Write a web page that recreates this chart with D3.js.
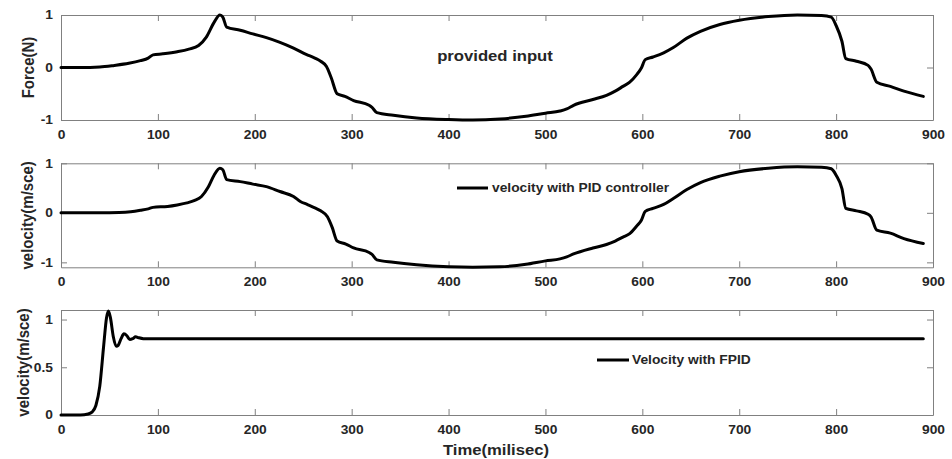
<!DOCTYPE html>
<html><head><meta charset="utf-8">
<script src="https://cdn.jsdelivr.net/npm/d3@7"></script>
<style>
body{margin:0;background:#fff}
svg{display:block}
text{font-family:"Liberation Sans",Arial,sans-serif;font-weight:bold;fill:#262626}
</style></head>
<body><svg id="chart" width="952" height="459"></svg>
<script>
// ---------- data ----------
const xTicks = [0,100,200,300,400,500,600,700,800,900];
const forceTicks = [-1,0,1];
const pidTicks = [-1,0,1];
const fpidTicks = [0,0.5,1];

const forceT = [0,20,40,55,70,82,90,95,105,120,132,142,150,158,164,167,171,185,198,212,226,240,253,262,268,274,279,285,293,302,318,321,326,343,367,400,425,453,480,500,515,522,529,549,563,572,580,587,594,599,603,611,622,632,646,660,680,700,730,760,785,795,800,806,810,821,833,836,842,856,870,890];
const forceV = [0,0,0.01,0.04,0.08,0.13,0.18,0.24,0.26,0.3,0.35,0.42,0.58,0.86,1.0,0.96,0.77,0.71,0.64,0.57,0.48,0.37,0.25,0.18,0.12,0.02,-0.2,-0.5,-0.55,-0.63,-0.72,-0.76,-0.86,-0.91,-0.96,-0.99,-1.0,-0.98,-0.93,-0.87,-0.83,-0.79,-0.72,-0.61,-0.53,-0.45,-0.36,-0.28,-0.14,-0.01,0.15,0.2,0.28,0.38,0.56,0.69,0.82,0.9,0.97,1.0,0.99,0.96,0.8,0.5,0.17,0.12,0.04,-0.03,-0.28,-0.36,-0.45,-0.55];

const pidT = [0,40,60,72,82,90,95,110,120,130,138,145,152,158,164,167,171,185,198,212,226,240,247,254,262,268,275,280,285,294,302,318,321,326,343,367,400,425,453,480,500,515,522,529,549,563,572,580,587,594,599,603,611,622,632,646,660,680,700,730,760,785,795,800,806,810,821,833,836,842,856,870,890];
const pidV = [0,0,0.005,0.02,0.05,0.08,0.11,0.13,0.16,0.2,0.25,0.33,0.52,0.76,0.9,0.87,0.67,0.63,0.58,0.53,0.43,0.33,0.23,0.17,0.1,0.04,-0.08,-0.3,-0.57,-0.63,-0.71,-0.8,-0.84,-0.95,-1.0,-1.05,-1.09,-1.1,-1.09,-1.04,-0.97,-0.93,-0.89,-0.83,-0.71,-0.64,-0.57,-0.49,-0.42,-0.27,-0.15,0.03,0.09,0.17,0.29,0.47,0.61,0.74,0.83,0.9,0.93,0.92,0.89,0.76,0.49,0.09,0.04,-0.03,-0.08,-0.35,-0.41,-0.52,-0.62];

const fpidT = [0,20,28,32,36,40,44,47,49,51,54,57,59,62,65,68,71,74,77,80,85,100,890];
const fpidV = [0,0,0.01,0.03,0.1,0.3,0.72,1.02,1.09,1.02,0.82,0.72,0.73,0.8,0.85,0.83,0.79,0.8,0.82,0.81,0.8,0.8,0.8];

// ---------- layout ----------
const svg = d3.select("#chart");
const L = 61, R = 933;
const SX = 1.15;
const plainFmt = d => String(d);
const panels = [
  {top:15, bottom:120, domain:[-1,1], ticks:forceTicks, T:forceT, V:forceV, ylabel:"Force(N)", ylx:28},
  {top:163.3, bottom:267.3, domain:[-1.1,1], ticks:pidTicks, T:pidT, V:pidV, ylabel:"velocity(m/sce)", ylx:27},
  {top:310, bottom:415, domain:[0,1.1], ticks:fpidTicks, T:fpidT, V:fpidV, ylabel:"velocity(m/sce)", ylx:23}
];

const axisColor = "#808080";

panels.forEach((p,i)=>{
  const x = d3.scaleLinear().domain([0,900]).range([L,R]);
  const y = d3.scaleLinear().domain(p.domain).range([p.bottom,p.top]);
  const g = svg.append("g");

  const styleAxis = sel => {
    sel.selectAll(".domain").attr("stroke",axisColor).attr("stroke-width",1);
    sel.selectAll(".tick line").attr("stroke",axisColor).attr("stroke-width",1);
  };

  const bx = g.append("g").attr("transform",`translate(0,${p.bottom})`)
    .call(d3.axisBottom(x).tickValues(xTicks).tickSizeInner(-6).tickSizeOuter(0).tickPadding(10).tickFormat(plainFmt));
  bx.call(styleAxis);
  bx.selectAll("text").attr("font-size","12px").attr("transform",`scale(${SX},1)`).attr("fill","#262626");

  const tx = g.append("g").attr("transform",`translate(0,${p.top})`)
    .call(d3.axisTop(x).tickValues(xTicks).tickSizeInner(-6).tickSizeOuter(0).tickFormat(""));
  tx.call(styleAxis);

  const ly = g.append("g").attr("transform",`translate(${L},0)`)
    .call(d3.axisLeft(y).tickValues(p.ticks).tickSizeInner(-6).tickSizeOuter(0).tickPadding(7).tickFormat(plainFmt));
  ly.call(styleAxis);
  ly.selectAll("text").attr("font-size","12px").attr("transform",`scale(${SX},1)`).attr("fill","#262626");

  const ry = g.append("g").attr("transform",`translate(${R},0)`)
    .call(d3.axisRight(y).tickValues(p.ticks).tickSizeInner(-6).tickSizeOuter(0).tickFormat(""));
  ry.call(styleAxis);

  const pts = p.T.map((t,k)=>[t,p.V[k]]);
  const line = d3.line().x(d=>x(d[0])).y(d=>y(d[1])).curve(d3.curveMonotoneX);
  g.append("path").datum(pts).attr("d",line).attr("fill","none")
    .attr("stroke","#000").attr("stroke-width",3).attr("stroke-linejoin","round").attr("stroke-linecap","round");

  const cy = (p.top+p.bottom)/2;
  svg.append("text").attr("transform",`translate(${p.ylx},${cy}) rotate(-90) scale(1,${SX})`)
    .attr("text-anchor","middle").attr("dy","0.35em").attr("font-size","15px").text(p.ylabel);
});

// annotations / legends
svg.append("text").attr("transform","translate(495,56) scale(1.15,1)").attr("text-anchor","middle")
  .attr("dy","0.35em").attr("font-size","14.5px").text("provided input");

svg.append("line").attr("x1",457).attr("x2",488).attr("y1",188).attr("y2",188).attr("stroke","#000").attr("stroke-width",3);
svg.append("text").attr("transform","translate(492,188) scale(1.15,1)").attr("dy","0.35em").attr("font-size","12px").text("velocity with PID controller");

svg.append("line").attr("x1",597).attr("x2",629).attr("y1",360).attr("y2",360).attr("stroke","#000").attr("stroke-width",3);
svg.append("text").attr("transform","translate(632,360) scale(1.15,1)").attr("dy","0.35em").attr("font-size","12px").text("Velocity with FPID");

svg.append("text").attr("transform","translate(496,450) scale(1.15,1)").attr("text-anchor","middle")
  .attr("dy","0.35em").attr("font-size","14.5px").text("Time(milisec)");
</script>
</body></html>
